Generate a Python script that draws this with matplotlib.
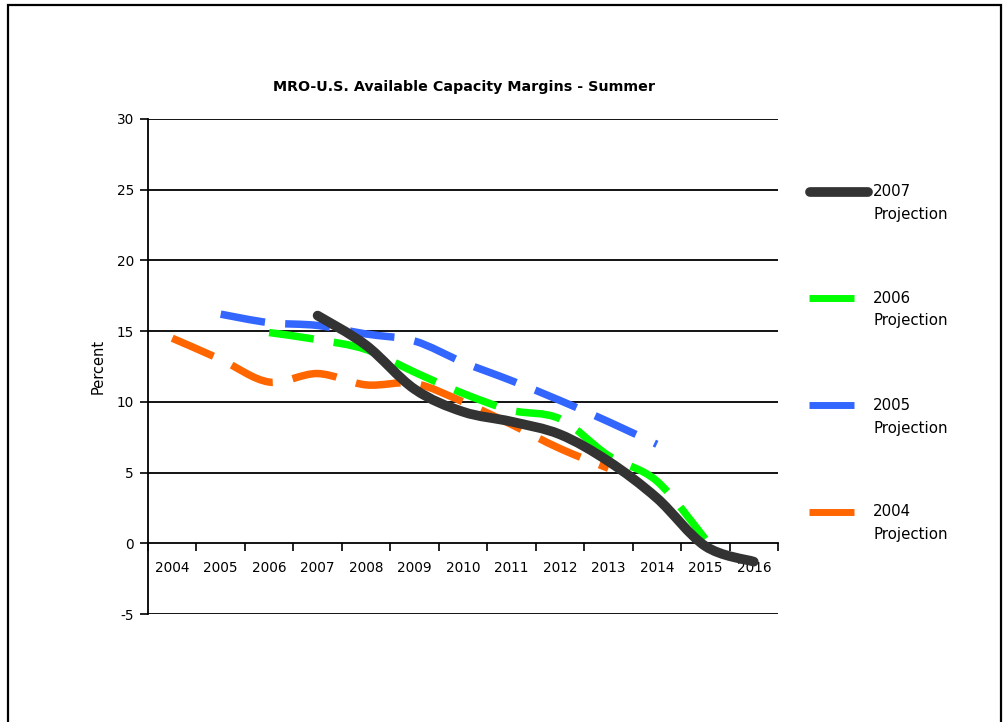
import matplotlib
matplotlib.use("Agg")
import matplotlib.pyplot as plt
from matplotlib.path import Path
from matplotlib.patches import PathPatch, Rectangle
from matplotlib.lines import Line2D
import numpy as np

plt.rcParams['font.family'] = ['DejaVu Sans']

# ---- data ----
years = ["2004", "2005", "2006", "2007", "2008", "2009", "2010",
         "2011", "2012", "2013", "2014", "2015", "2016"]

proj_2007_years = ["2007", "2008", "2009", "2010", "2011", "2012",
                   "2013", "2014", "2015", "2016"]
proj_2007 = [16.1, 14.0, 10.9, 9.3, 8.6, 7.7, 5.8, 3.2, -0.2, -1.3]

proj_2006_years = ["2006", "2007", "2008", "2009", "2010", "2011",
                   "2012", "2013", "2014", "2015"]
proj_2006 = [14.9, 14.4, 13.7, 12.1, 10.6, 9.4, 8.8, 6.2, 4.4, 0.3]

proj_2005_years = ["2005", "2006", "2007", "2008", "2009", "2010",
                   "2011", "2012", "2013", "2014"]
proj_2005 = [16.2, 15.6, 15.4, 14.8, 14.3, 12.8, 11.5, 10.1, 8.6, 7.0]

proj_2004_years = ["2004", "2005", "2006", "2007", "2008", "2009",
                   "2010", "2011", "2012", "2013"]
proj_2004 = [14.5, 13.0, 11.4, 12.0, 11.2, 11.3, 10.0, 8.4, 6.7, 5.3]

series_labels = ["2007\nProjection", "2006\nProjection",
                 "2005\nProjection", "2004\nProjection"]
series_colors = ["#333333", "#00ff00", "#3366ff", "#ff6600"]

y_ticks = [-5, 0, 5, 10, 15, 20, 25, 30]
title = "MRO-U.S. Available Capacity Margins - Summer"
y_label = "Percent"


def smooth_path(xs, ys):
    """Catmull-Rom style cubic Bezier path through the points."""
    pts = np.column_stack([xs, ys]).astype(float)
    n = len(pts)
    verts = [pts[0]]
    codes = [Path.MOVETO]
    for i in range(n - 1):
        p0 = pts[i - 1] if i > 0 else pts[i]
        p1 = pts[i]
        p2 = pts[i + 1]
        p3 = pts[i + 2] if i + 2 < n else pts[i + 1]
        c1 = p1 + (p2 - p0) / 6.0
        c2 = p2 - (p3 - p1) / 6.0
        verts += [c1, c2, p2]
        codes += [Path.CURVE4] * 3
    return Path(verts, codes)


W, H = 1005, 722
fig = plt.figure(figsize=(W / 100, H / 100), dpi=100)

# outer frame
fig.add_artist(Rectangle((8 / W, -0.05), (1001 - 8) / W, 1 - 5 / H + 0.05,
                         transform=fig.transFigure, fill=False,
                         edgecolor="black", linewidth=1.6))

ax = fig.add_axes([148 / W, 1 - 614 / H, (778 - 148) / W, (614 - 119) / H])
ax.set_xlim(-0.5, len(years) - 0.5)
ax.set_ylim(-5, 30)

# horizontal gridlines
for v in y_ticks:
    if v != 0:
        ax.axhline(v, color="black", linewidth=1.3, zorder=1)

for s in ["top", "right"]:
    ax.spines[s].set_visible(False)
ax.spines["bottom"].set_position(("data", 0))
ax.spines["bottom"].set_linewidth(1.3)
ax.spines["left"].set_linewidth(1.3)

ax.set_yticks(y_ticks)
ax.set_yticklabels([str(v) for v in y_ticks], fontsize=9.8)
ax.tick_params(axis="y", length=6, width=1.2, pad=4)

# category boundaries as major ticks, year labels at centres
ax.set_xticks(np.arange(len(years) + 1) - 0.5)
ax.set_xticklabels([])
ax.tick_params(axis="x", which="major", length=6, width=1.2, direction="out")
ax.set_xticks(np.arange(len(years)), minor=True)
ax.set_xticklabels(years, minor=True, fontsize=9.8)
ax.tick_params(axis="x", which="minor", length=0, pad=13)

ax.set_ylabel(y_label, fontsize=10.5)
ax.yaxis.set_label_coords(-0.068, 0.5, transform=ax.transAxes)

fig.text(464 / W, 1 - 87 / H, title, ha="center", va="center",
         fontsize=10.3, fontweight="bold")

# projection lines
series = [
    (proj_2007_years, proj_2007),
    (proj_2006_years, proj_2006),
    (proj_2005_years, proj_2005),
    (proj_2004_years, proj_2004),
]
idx = {y: i for i, y in enumerate(years)}
for k in [3, 2, 1, 0]:
    yrs, vals = series[k]
    xs = [idx[y] for y in yrs]
    path = smooth_path(xs, vals)
    if k == 0:
        patch = PathPatch(path, fill=False, edgecolor=series_colors[k],
                          linewidth=7.0, capstyle="round", joinstyle="round",
                          zorder=5, clip_on=False)
    else:
        patch = PathPatch(path, fill=False, edgecolor=series_colors[k],
                          linewidth=5.4, linestyle=(0, (6.0, 2.7)),
                          capstyle="butt", joinstyle="round", zorder=4,
                          clip_on=False)
    ax.add_patch(patch)

# legend drawn at the right of the plot
legend_y = [192, 298, 405, 512]
for k in range(4):
    yy = 1 - legend_y[k] / H
    if k == 0:
        ln = Line2D([810 / W, 868 / W], [yy, yy], transform=fig.transFigure,
                    color=series_colors[k], linewidth=7.0,
                    solid_capstyle="round")
    else:
        ln = Line2D([809 / W, 854 / W], [yy, yy], transform=fig.transFigure,
                    color=series_colors[k], linewidth=5.0,
                    solid_capstyle="butt")
    fig.add_artist(ln)
    first, second = series_labels[k].split("\n")
    fig.text(873 / W, yy, first, ha="left", va="center", fontsize=10.8)
    fig.text(873 / W, 1 - (legend_y[k] + 23) / H, second, ha="left",
             va="center", fontsize=10.8)

fig.savefig("out.png", dpi=100)
